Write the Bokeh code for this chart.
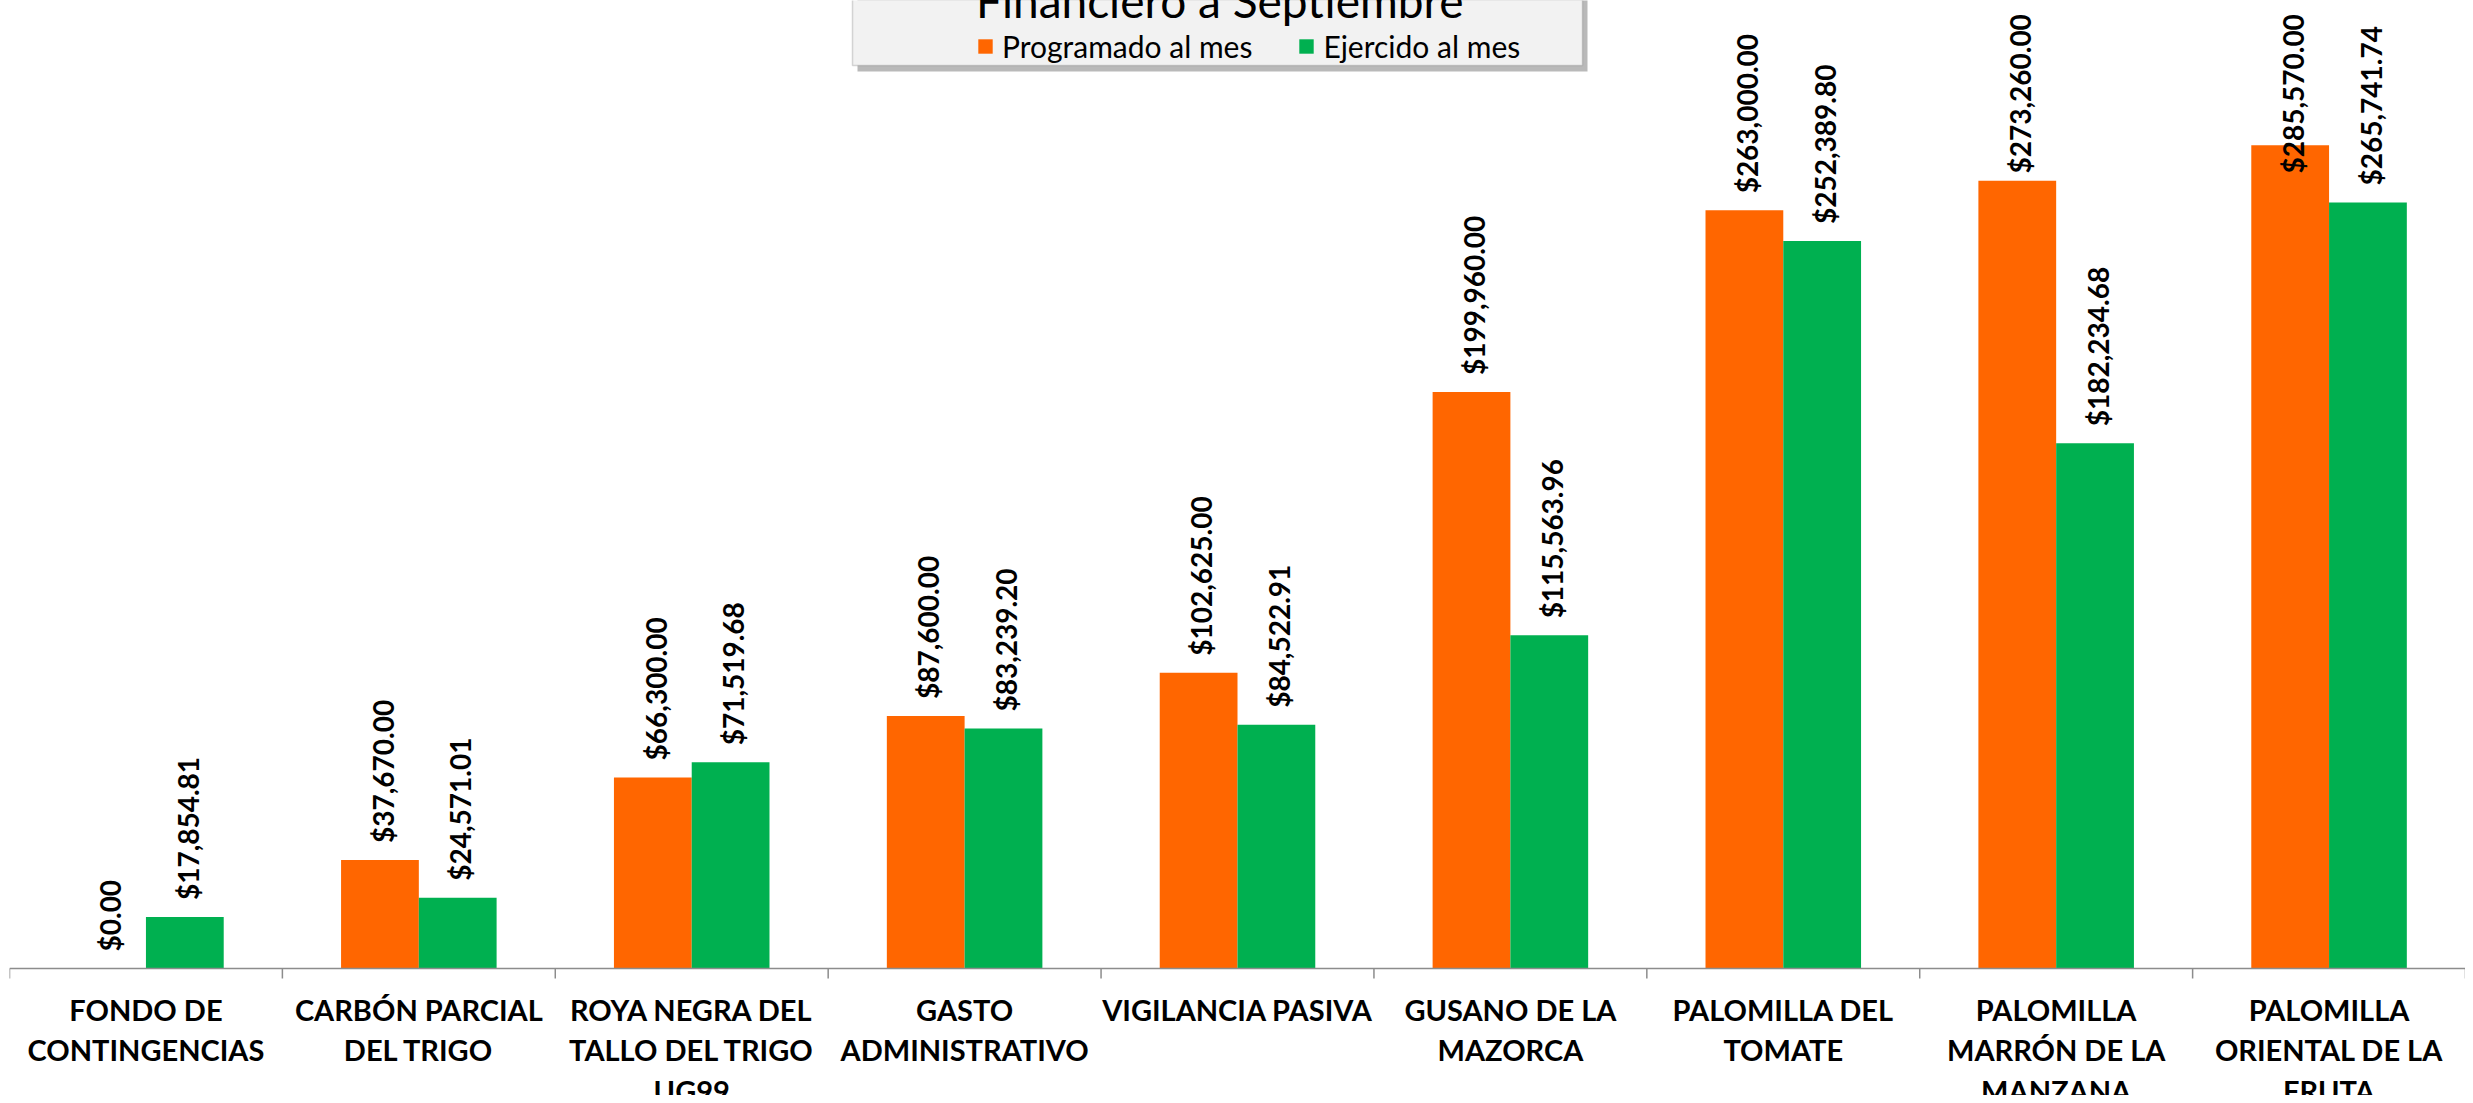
import math
from bokeh.plotting import figure
from bokeh.models import (ColumnDataSource, FactorRange, Range1d, Legend, LegendItem,
                          BoxAnnotation, Span)
from bokeh.transform import dodge
from bokeh.core.properties import value
from bokeh.embed import file_html
from bokeh.resources import INLINE

# ---------------- data ----------------
categories = [
    "FONDO DE\nCONTINGENCIAS",
    "CARBÓN PARCIAL\nDEL TRIGO",
    "ROYA NEGRA DEL\nTALLO DEL TRIGO\nUG99",
    "GASTO\nADMINISTRATIVO",
    "VIGILANCIA PASIVA",
    "GUSANO DE LA\nMAZORCA",
    "PALOMILLA DEL\nTOMATE",
    "PALOMILLA\nMARRÓN DE LA\nMANZANA",
    "PALOMILLA\nORIENTAL DE LA\nFRUTA",
]
programado = [0.00, 37670.00, 66300.00, 87600.00, 102625.00, 199960.00, 263000.00, 273260.00, 285570.00]
ejercido = [17854.81, 24571.01, 71519.68, 83239.20, 84522.91, 115563.96, 252389.80, 182234.68, 265741.74]
series_names = ["Programado al mes", "Ejercido al mes"]
chart_title = "Financiero a Septiembre"

# ---------------- style / geometry ----------------
ORANGE = "#FF6600"
GREEN = "#00B050"
AXIS_GRAY = "#8C8C8C"
FONT = "Lato"

W, H = 2465, 1095
LEFT_PX = 9            # left edge of the category axis
BASE_PX = 968          # baseline distance from top of the plot, px
UPP = 346.9            # data units per pixel
LABEL_GAP_PX = 17      # gap between bar top and value label
LABEL_LEN_PX = 160     # length of the longest value label
TOP_PAD_PX = 13        # value labels never go above this
y_top = BASE_PX * UPP
y_bot = -(H - BASE_PX) * UPP
CAT_PX = (W - LEFT_PX) / len(categories)

def px_x(px):   # canvas x (px) -> synthetic categorical coordinate
    return (px - LEFT_PX) / CAT_PX

def px_y(px):   # canvas y (px from top) -> data coordinate
    return (BASE_PX - px) * UPP

def money(v):
    return "${:,.2f}".format(v)

label_cap = px_y(TOP_PAD_PX + LABEL_LEN_PX)
src = ColumnDataSource(dict(
    cat=categories,
    prog=programado,
    ejer=ejercido,
    prog_lbl=[money(v) for v in programado],
    ejer_lbl=[money(v) for v in ejercido],
    prog_y=[min(v + LABEL_GAP_PX * UPP, label_cap) for v in programado],
    ejer_y=[min(v + LABEL_GAP_PX * UPP, label_cap) for v in ejercido],
))

p = figure(
    x_range=FactorRange(factors=categories, range_padding=0, factor_padding=0),
    y_range=Range1d(y_bot, y_top),
    width=W, height=H,
    output_backend="svg", toolbar_location=None,
    x_axis_location=None, y_axis_location=None,
    min_border_left=LEFT_PX, min_border_right=0, min_border_top=0, min_border_bottom=0,
    outline_line_color=None, background_fill_color="white", border_fill_color="white",
)
p.grid.visible = False

BAR_W = 0.285
OFF = BAR_W / 2

r1 = p.vbar(x=dodge("cat", -OFF, range=p.x_range), top="prog", width=BAR_W, source=src,
            fill_color=ORANGE, line_color=None)
r2 = p.vbar(x=dodge("cat", OFF, range=p.x_range), top="ejer", width=BAR_W, source=src,
            fill_color=GREEN, line_color=None)

# value labels
for xoff, ycol, tcol in ((-OFF, "prog_y", "prog_lbl"), (OFF, "ejer_y", "ejer_lbl")):
    p.text(x=dodge("cat", xoff + 0.01, range=p.x_range), y=ycol, text=tcol, source=src,
           angle=math.pi / 2, text_align="left", text_baseline="middle",
           text_font=value(FONT), text_font_style="bold", text_font_size="28px",
           text_color="black")

# category axis: baseline, boundary ticks, labels
p.add_layout(Span(location=0, dimension="width", line_color=AXIS_GRAY, line_width=1.5))
bounds = list(range(len(categories) + 1))
p.segment(x0=bounds, y0=[0] * len(bounds), x1=bounds, y1=[-10 * UPP] * len(bounds),
          line_color=AXIS_GRAY, line_width=1.5)
p.text(x="cat", y=-23 * UPP, text="cat", source=src,
       text_align="center", text_baseline="top", text_line_height=1.17,
       text_font=value(FONT), text_font_style="bold", text_font_size="29px",
       text_color="black")

# legend box with shadow
p.add_layout(BoxAnnotation(left=px_x(857), right=px_x(1587), bottom=px_y(71), top=y_top * 1.2,
                           fill_color="#7F7F7F", fill_alpha=0.55, line_color=None))
p.add_layout(BoxAnnotation(left=px_x(852), right=px_x(1582), bottom=px_y(65), top=y_top * 1.2,
                           fill_color="#F2F2F2", fill_alpha=1.0, line_color="#7F7F7F",
                           line_width=1.5))

legend = Legend(
    items=[LegendItem(label=series_names[0], renderers=[r1]),
           LegendItem(label=series_names[1], renderers=[r2])],
    orientation="horizontal", location=(967, H - 64),
    title=chart_title, title_text_font=FONT, title_text_font_size="46px",
    title_text_font_style="normal", title_text_color="black", title_standoff=0,
    label_text_font=FONT, label_text_font_size="30px", label_text_color="black",
    glyph_width=18, glyph_height=18, label_standoff=8, spacing=45,
    padding=0, margin=0, background_fill_alpha=0, border_line_color=None,
)
p.add_layout(legend)

open("out.html", "w").write(file_html(p, INLINE))
